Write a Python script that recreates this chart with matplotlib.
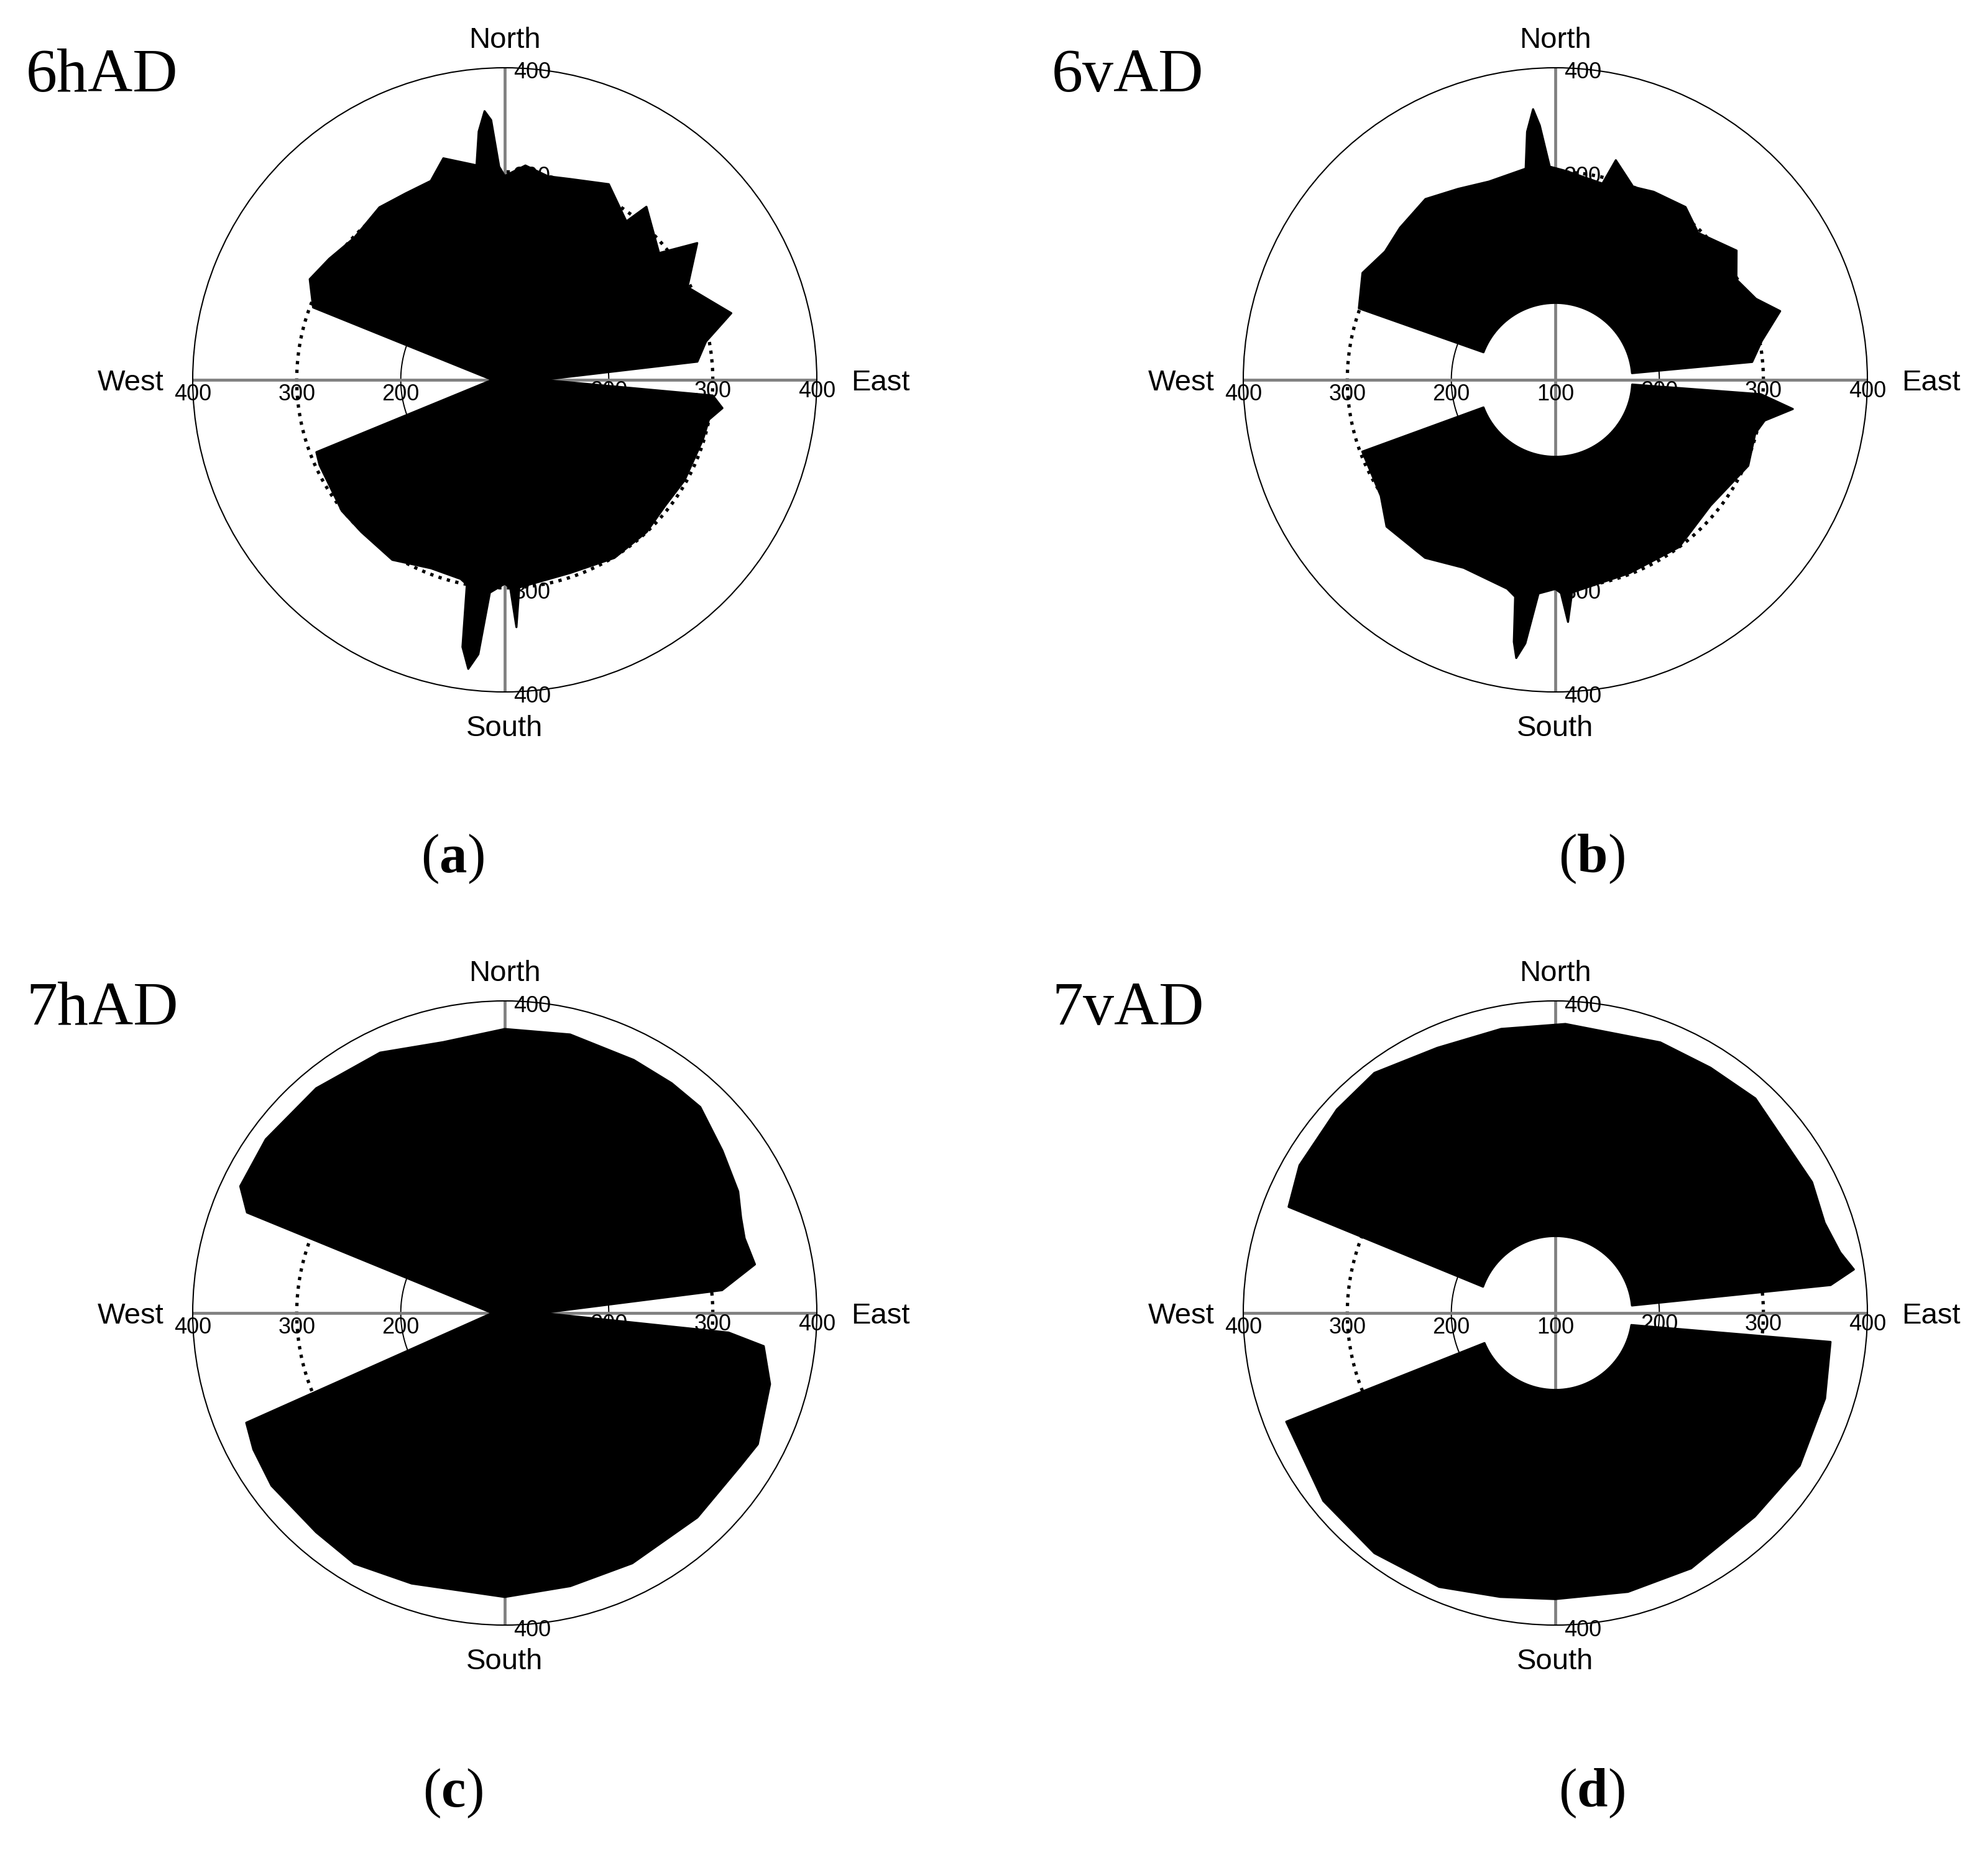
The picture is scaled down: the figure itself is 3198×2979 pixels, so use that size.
import numpy as np
import matplotlib.pyplot as plt

plt.rcParams['font.family'] = ['Liberation Sans', 'DejaVu Sans']
plt.rcParams['mathtext.fontset'] = 'custom'
plt.rcParams['mathtext.rm'] = 'Liberation Serif'
plt.rcParams['mathtext.bf'] = 'Liberation Serif:bold'

W, H, DPI = 3198, 2979, 200

titles = ['6hAD', '6vAD', '7hAD', '7vAD']
tags = ['a', 'b', 'c', 'd']

# outer edge of the point clouds (angle in degrees from East, counter-clockwise; range)
# 6hAD
a_up_deg = [5.4, 10.8, 16.4, 21.3, 26.9, 35.4, 39.4, 50.7, 52.5, 62, 72, 78, 84.5, 90,
            91.5, 93, 94.3, 96, 97.5, 105.5, 110.4, 118, 126, 136.7, 145.4, 152.7, 159.3]
a_up_r = [286, 297, 327, 311, 297, 327, 292, 315, 292, 313, 303, 300, 307, 296,
          305, 350, 359, 340, 308, 321, 304, 303, 305, 299, 305, 311, 297]
a_lo_deg = [201, 204.7, 218.8, 226.7, 238, 248.6, 257.5, 259.5, 261, 262.8, 264.5, 266, 270,
            271.5, 272.7, 274, 288.7, 301.6, 313, 322, 330.8, 343.4, 349, 352.6, 355.7]
a_lo_r = [294, 296, 301, 301, 304, 294.5, 296, 300, 360, 380, 365, 305, 296,
          300, 338, 300, 296, 301, 300, 296, 298, 299, 300, 311, 300.5]

# 6vAD
b_up_deg = [5.2, 10.7, 17, 22, 29, 35.5, 45.8, 53, 62.4, 68, 74.6, 76.5, 87,
            91.5, 93.5, 94.7, 96.5, 98, 108.5, 117, 125.7, 135.6, 143, 151, 160]
b_up_r = [290, 302, 326, 308, 299, 314, 297, 308, 304, 300, 319, 294, 301,
          305, 345, 361, 340, 305, 301, 306, 314, 309, 305, 312, 301]
b_lo_deg = [200.4, 213.6, 221, 233.8, 244, 257, 259.5, 261, 262, 263.5, 265.5, 270,
            271.5, 273, 274.5, 291, 306.5, 321, 336, 345, 349, 353, 356]
b_lo_r = [298, 301.5, 315, 312, 301, 306, 312, 355, 370, 355, 306, 301,
          305, 333, 305, 299, 300, 292, 303, 299, 305, 330, 298]

# 7hAD
c_up_deg = [6, 11, 17.3, 22, 27.5, 36.7, 46.5, 54, 63, 76.8, 90, 102.8, 115.6, 130, 144, 154.4, 158.7]
c_up_r = [310, 345, 341.5, 345, 353, 361, 373, 373, 373, 375, 373, 367, 377.5, 382, 384, 382, 366]
c_lo_deg = [203, 208.5, 216.5, 229.3, 239, 251, 270, 283.5, 297, 313.3, 327, 332.6, 345, 352.7, 355]
c_lo_r = [370, 375, 379, 378, 381, 375, 373, 370, 370, 370, 370, 374, 364, 351, 316]

# 7vAD
d_up_deg = [5.8, 8.3, 12, 18.5, 27, 47, 57.7, 68.8, 88, 100.8, 114, 127, 137, 150, 158.3]
d_up_r = [366, 390, 380, 373, 377, 382, 379, 379, 378, 378, 379, 389, 387, 384, 376]
d_lo_deg = [202, 219, 233, 247, 259, 270, 284.6, 298, 314.4, 328, 342.4, 354]
d_lo_r = [379, 387, 389, 386, 378, 375, 377, 378, 374, 377, 372, 366]

# inner edge: h panels meet near the centre, v panels leave a hole
h_apex_east = 136
h_apex_west = 112
v_hole_r = 174
b_hole_span = [(5, 159), (201, 356.5)]
d_hole_span = [(5.6, 160), (203, 351)]

ring_ticks = [200, 300, 400]

centers = [(812, 611), (2502, 611), (812, 2112), (2502, 2112)]
tag_pos = [(728, 1403), (2560, 1403), (728, 2906), (2560, 2906)]
title_pos = [(42, 147), (1692, 147), (42, 1648), (1692, 1648)]
R = 502

fig = plt.figure(figsize=(W / DPI, H / DPI), dpi=DPI)

panels = [
    (a_up_deg, a_up_r, a_lo_deg, a_lo_r, None),
    (b_up_deg, b_up_r, b_lo_deg, b_lo_r, b_hole_span),
    (c_up_deg, c_up_r, c_lo_deg, c_lo_r, None),
    (d_up_deg, d_up_r, d_lo_deg, d_lo_r, d_hole_span),
]

for i, (up_deg, up_r, lo_deg, lo_r, hole) in enumerate(panels):
    cx, cy = centers[i]
    ax = fig.add_axes([(cx - R) / W, 1 - (cy + R) / H, 2 * R / W, 2 * R / H], projection='polar')

    if hole is None:
        th_up = [0] + up_deg + [180]
        r_up = [h_apex_east] + up_r + [h_apex_west]
        th_lo = [180] + lo_deg + [360]
        r_lo = [h_apex_west] + lo_r + [h_apex_east]
    else:
        arc_up = np.linspace(hole[0][1], hole[0][0], 60)
        arc_lo = np.linspace(hole[1][1], hole[1][0], 60)
        th_up = up_deg + list(arc_up)
        r_up = up_r + [v_hole_r] * len(arc_up)
        th_lo = lo_deg + list(arc_lo)
        r_lo = lo_r + [v_hole_r] * len(arc_lo)
    for th, rr in [(th_up, r_up), (th_lo, r_lo)]:
        ax.fill(np.radians(th), rr, facecolor='black', edgecolor='black', lw=1.2,
                joinstyle='round', zorder=3)

    # rings
    t = np.linspace(0, 2 * np.pi, 721)
    ax.plot(t, np.full_like(t, 300), color='black', ls=':', lw=1.9, zorder=1)
    ax.plot(t, np.full_like(t, 200), color='black', lw=0.7, zorder=1)

    # compass axes
    for a in [0, np.pi / 2, np.pi, 3 * np.pi / 2]:
        ax.plot([a, a], [100, 400], color='#808080', lw=1.7, zorder=1.5, solid_capstyle='butt')

    for v in ring_ticks:
        ax.annotate(str(v), xy=(np.pi, v), xytext=(0, -12), textcoords='offset points',
                    ha='center', va='baseline', fontsize=13, zorder=2, annotation_clip=False)
        ax.annotate(str(v), xy=(0, v), xytext=(0, -10), textcoords='offset points',
                    ha='center', va='baseline', fontsize=13, zorder=2, annotation_clip=False)
        for a in [np.pi / 2, 3 * np.pi / 2]:
            ax.annotate(str(v), xy=(a, v), xytext=(5, -6.3), textcoords='offset points',
                        ha='left', va='baseline', fontsize=13, zorder=2, annotation_clip=False)
    ax.annotate('100', xy=(0, 100), xytext=(0, -12), textcoords='offset points',
                ha='center', va='baseline', fontsize=13, zorder=2, annotation_clip=False)

    ax.annotate('North', xy=(np.pi / 2, 400), xytext=(0, 11.5), textcoords='offset points',
                ha='center', va='baseline', fontsize=17, annotation_clip=False)
    ax.annotate('South', xy=(3 * np.pi / 2, 400), xytext=(0, -25.6), textcoords='offset points',
                ha='center', va='baseline', fontsize=17, annotation_clip=False)
    ax.annotate('West', xy=(np.pi, 400), xytext=(-16.6, -6.1), textcoords='offset points',
                ha='right', va='baseline', fontsize=17, annotation_clip=False)
    ax.annotate('East', xy=(0, 400), xytext=(19.8, -6.1), textcoords='offset points',
                ha='left', va='baseline', fontsize=17, annotation_clip=False)

    ax.set_ylim(100, 400)
    ax.set_xticks([])
    ax.set_yticks([])
    ax.grid(False)
    ax.spines['polar'].set_linewidth(0.75)
    for s in ['start', 'end', 'inner']:
        ax.spines[s].set_visible(False)

    tx, ty = title_pos[i]
    fig.text(tx / W, 1 - ty / H, titles[i], ha='left', va='baseline', fontsize=36,
             family='Liberation Serif')
    gx, gy = tag_pos[i]
    fig.text(gx / W, 1 - gy / H, '($\\mathbf{' + tags[i] + '}$)', ha='center', va='baseline',
             fontsize=32, family='Liberation Serif')

fig.savefig('out.png', dpi=DPI)
